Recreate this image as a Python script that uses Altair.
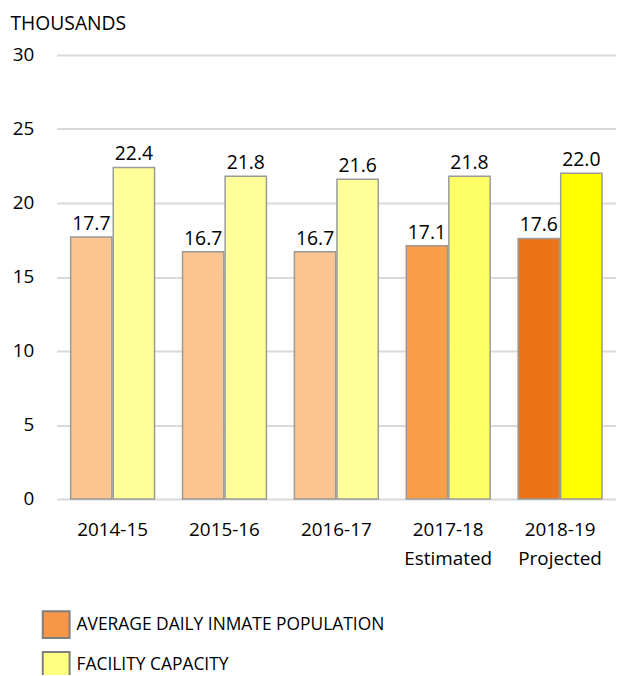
import altair as alt
import pandas as pd

years = ["2014-15", "2015-16", "2016-17", "2017-18 Estimated", "2018-19 Projected"]
population = [17.7, 16.7, 16.7, 17.1, 17.6]
capacity = [22.4, 21.8, 21.6, 21.8, 22.0]
pop_colors = ["#FBC591", "#FBC591", "#FBC591", "#FA9F47", "#EC7417"]
cap_colors = ["#FFFF99", "#FFFF99", "#FFFF99", "#FFFF66", "#FFFF00"]
series = ["AVERAGE DAILY INMATE POPULATION", "FACILITY CAPACITY"]
legend_colors = ["#F79646", "#FFFF80"]
y_ticks = [0, 5, 10, 15, 20, 25, 30]

rows = []
for i, yr in enumerate(years):
    rows.append({"year": yr, "series": series[0], "value": population[i], "fill": pop_colors[i]})
    rows.append({"year": yr, "series": series[1], "value": capacity[i], "fill": cap_colors[i]})
df = pd.DataFrame(rows)

FONT = "Open Sans"

x = alt.X(
    "year:N", sort=years, title=None,
    scale=alt.Scale(paddingInner=0.25, paddingOuter=0.125),
    axis=alt.Axis(labelAngle=0, labelFont=FONT, labelFontSize=19, labelColor="#000000",
                  labelPadding=22, labelLineHeight=29, labelBaseline="top",
                  labelExpr="split(datum.label, ' ')", domain=False, ticks=False),
)
xoff = alt.XOffset("series:N", sort=series, scale=alt.Scale(paddingInner=0.03))
y = alt.Y(
    "value:Q", scale=alt.Scale(domain=[0, 30]),
    axis=alt.Axis(values=y_ticks, title="THOUSANDS", titleAngle=0, titleX=-47, titleY=-26,
                  titleAlign="left", titleBaseline="alphabetic", titleFont=FONT,
                  titleFontSize=19.4, titleFontWeight="normal", titleColor="#000000",
                  labelFont=FONT, labelFontSize=19, labelColor="#000000", labelPadding=23,
                  domain=False, ticks=False, gridColor="#D9D9D9", gridWidth=2),
)

bars = alt.Chart(df).mark_bar(stroke="#9A9A9A", strokeWidth=1.5).encode(
    x=x, xOffset=xoff, y=y,
    fill=alt.Fill("fill:N", scale=None),
)

labels = alt.Chart(df).mark_text(baseline="alphabetic", dy=-7, font=FONT, fontSize=19.5,
                                 color="#000000").encode(
    x=x, xOffset=xoff, y=y,
    text=alt.Text("value:Q", format=".1f"),
)

legend_df = pd.DataFrame({"series": series})
legend_layer = alt.Chart(legend_df).mark_square(opacity=0).encode(
    x=alt.value(0), y=alt.value(0),
    color=alt.Color(
        "series:N", sort=series,
        scale=alt.Scale(domain=series, range=legend_colors),
        legend=alt.Legend(title=None, orient="none", legendX=-15, legendY=559,
                          symbolType="square", symbolSize=729, symbolStrokeColor="#7F7F7F",
                          symbolStrokeWidth=2, symbolOpacity=1, labelFont=FONT,
                          labelFontSize=17.5, labelColor="#000000", rowPadding=6,
                          labelOffset=6, labelLimit=500, padding=0),
    ),
)

chart = alt.layer(bars, labels, legend_layer).properties(
    width=563, height=447,
    autosize=alt.AutoSizeParams(type="none"),
    padding={"left": 49, "top": 45, "right": 0, "bottom": 175},
).configure_view(stroke=None)

chart.save("out.html", embed_options={"renderer": "svg", "actions": False})
